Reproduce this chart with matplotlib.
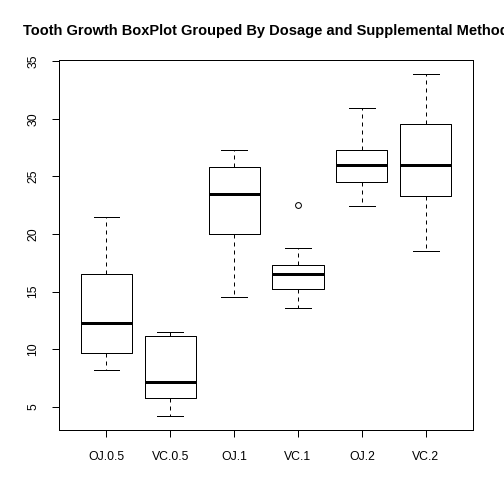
import matplotlib
matplotlib.use("Agg")
import matplotlib.pyplot as plt

# group labels and box statistics (Tukey hinges as drawn by R boxplot)
groups = ["OJ.0.5", "VC.0.5", "OJ.1", "VC.1", "OJ.2", "VC.2"]
lower_whisker = [8.2, 4.2, 14.5, 13.6, 22.4, 18.5]
lower_hinge = [9.7, 5.8, 20.0, 15.2, 24.5, 23.3]
medians = [12.25, 7.15, 23.45, 16.5, 25.95, 25.95]
upper_hinge = [16.5, 11.2, 25.8, 17.3, 27.3, 29.5]
upper_whisker = [21.5, 11.5, 27.3, 18.8, 30.9, 33.9]
outliers = [[], [], [], [22.5], [], []]

yticks = [5, 10, 15, 20, 25, 30, 35]

plt.rcParams['font.family'] = ['Liberation Sans', 'DejaVu Sans']

W = 504
fig = plt.figure(figsize=(5.04, 5.04), dpi=100)
ax = fig.add_axes([59 / W, 1 - 430 / W, (473 - 59) / W, (430 - 60) / W])

stats = []
for i, g in enumerate(groups):
    stats.append(dict(label=g, whislo=lower_whisker[i], q1=lower_hinge[i],
                      med=medians[i], q3=upper_hinge[i],
                      whishi=upper_whisker[i], fliers=outliers[i]))

lw = 0.72
ax.bxp(stats, positions=range(1, 7), widths=0.8, showfliers=True,
       boxprops=dict(color='black', linewidth=lw),
       whiskerprops=dict(color='black', linewidth=lw, linestyle=(0, (4, 4))),
       capprops=dict(color='black', linewidth=lw),
       medianprops=dict(color='black', linewidth=2.16, solid_capstyle='butt'),
       flierprops=dict(marker='o', markersize=4.2, markerfacecolor='none',
                       markeredgecolor='black', markeredgewidth=lw),
       capwidths=0.4)

ax.set_xlim(0.26, 6.74)
ax.set_ylim(3.012, 35.088)
ax.set_yticks(yticks)
ax.set_yticklabels([str(v) for v in yticks], rotation=90, va='center')
ax.set_xticks(range(1, 7))
ax.set_xticklabels(groups)
ax.tick_params(axis='both', length=5.2, width=lw, labelsize=8.8, color='black')
ax.tick_params(axis='x', pad=10)
ax.tick_params(axis='y', pad=9)
for s in ax.spines.values():
    s.set_linewidth(lw)

# title is centred over the plot region and runs past the right edge, as in the original
fig.text(266 / W, 1 - 31.5 / W, "Tooth Growth BoxPlot Grouped By Dosage and Supplemental Method",
         ha='center', va='center', fontsize=10.55, fontweight='bold')

fig.savefig("out.png", dpi=100)
